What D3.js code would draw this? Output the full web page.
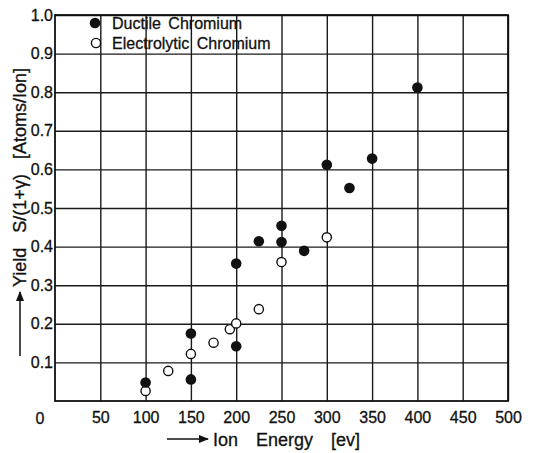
<!DOCTYPE html>
<html>
<head>
<meta charset="utf-8">
<script src="https://cdn.jsdelivr.net/npm/d3@7"></script>
<style>
  body { margin: 0; background: #fff; }
  text { font-family: "Liberation Sans", Arial, sans-serif; fill: #111; }
</style>
</head>
<body>
<script>
// ductile chromium, filled dots
const ductileEnergy = [100, 150, 150, 200, 200, 225, 250, 250, 275, 300, 325, 350, 400];
const ductileYield  = [0.048, 0.175, 0.056, 0.356, 0.142, 0.414, 0.454, 0.412, 0.389, 0.612, 0.552, 0.628, 0.812];

// electrolytic chromium, open dots
const electroEnergy = [100, 125, 150, 175, 193, 200, 225, 250, 300];
const electroYield  = [0.026, 0.078, 0.122, 0.151, 0.186, 0.201, 0.238, 0.36, 0.424];

const xTicks = [50, 100, 150, 200, 250, 300, 350, 400, 450, 500];
const yTicks = [0.1, 0.2, 0.3, 0.4, 0.5, 0.6, 0.7, 0.8, 0.9, 1.0];

const W = 545, H = 453;
const margin = {left: 55, top: 15, right: 37, bottom: 52};
const width = W - margin.left - margin.right;
const height = H - margin.top - margin.bottom;

const svg = d3.select("body").append("svg")
    .attr("width", W)
    .attr("height", H);

const g = svg.append("g")
    .attr("transform", "translate(" + margin.left + "," + margin.top + ")");

const x = d3.scaleLinear().domain([0, 500]).range([0, width]);
const y = d3.scaleLinear().domain([0, 1]).range([height, 0]);

// grid + tick labels
const xAxis = g.append("g")
    .attr("transform", "translate(0," + height + ")")
    .call(d3.axisBottom(x).tickValues(xTicks).tickSize(-height).tickPadding(11)
        .tickFormat(d3.format("d")));
const yAxis = g.append("g")
    .call(d3.axisLeft(y).tickValues(yTicks).tickSize(-width).tickPadding(2)
        .tickFormat(d3.format(".1f")));

[xAxis, yAxis].forEach(function(a){
    a.select(".domain").remove();
    a.selectAll("line").attr("stroke", "#1a1a1a").attr("stroke-width", 1.4);
    a.selectAll("text").style("font-size", "16px").attr("fill", "#111")
        .attr("stroke", "#111").attr("stroke-width", 0.3);
});

// "0" sits at the corner
g.append("text")
    .attr("x", -15).attr("y", height + 23)
    .attr("text-anchor", "middle")
    .style("font-size", "16px")
    .attr("stroke", "#111").attr("stroke-width", 0.3)
    .text("0");

// frame
g.append("rect")
    .attr("width", width).attr("height", height)
    .attr("fill", "none")
    .attr("stroke", "#111")
    .attr("stroke-width", 1.8);

// points
const ductile = ductileEnergy.map((e, i) => ({e: e, v: ductileYield[i]}));
const electro = electroEnergy.map((e, i) => ({e: e, v: electroYield[i]}));

g.append("g").selectAll("circle")
    .data(electro)
    .enter().append("circle")
    .attr("cx", d => x(d.e))
    .attr("cy", d => y(d.v))
    .attr("r", 4.6)
    .attr("fill", "#fff")
    .attr("stroke", "#111")
    .attr("stroke-width", 1.4);

g.append("g").selectAll("circle")
    .data(ductile)
    .enter().append("circle")
    .attr("cx", d => x(d.e))
    .attr("cy", d => y(d.v))
    .attr("r", 5.3)
    .attr("fill", "#111");

// legend
const legend = g.append("g");
legend.append("circle").attr("cx", 40).attr("cy", 8).attr("r", 5.3).attr("fill", "#111");
legend.append("circle").attr("cx", 41).attr("cy", 28).attr("r", 4.6)
    .attr("fill", "#fff").attr("stroke", "#111").attr("stroke-width", 1.4);
legend.append("text").attr("x", 57).attr("y", 14)
    .style("font-size", "16px").style("word-spacing", "3px")
    .attr("stroke", "#111").attr("stroke-width", 0.3)
    .text("Ductile Chromium");
legend.append("text").attr("x", 57).attr("y", 34)
    .style("font-size", "16px").style("word-spacing", "3px")
    .attr("stroke", "#111").attr("stroke-width", 0.3)
    .text("Electrolytic Chromium");

// arrow marker
svg.append("defs").append("marker")
    .attr("id", "arr")
    .attr("viewBox", "0 0 10 10")
    .attr("refX", 9).attr("refY", 5)
    .attr("markerWidth", 7).attr("markerHeight", 7)
    .attr("orient", "auto")
    .append("path").attr("d", "M0,1 L10,5 L0,9 Z").attr("fill", "#111");

// x title
svg.append("line")
    .attr("x1", 167).attr("y1", 439).attr("x2", 208).attr("y2", 439)
    .attr("stroke", "#111").attr("stroke-width", 1.5)
    .attr("marker-end", "url(#arr)");
svg.append("text")
    .attr("x", 213).attr("y", 446)
    .style("font-size", "18px").style("word-spacing", "13px")
    .attr("stroke", "#111").attr("stroke-width", 0.3)
    .text("Ion Energy [ev]");

// y title
svg.append("line")
    .attr("x1", 20).attr("y1", 356).attr("x2", 20).attr("y2", 292)
    .attr("stroke", "#111").attr("stroke-width", 1.5)
    .attr("marker-end", "url(#arr)");
svg.append("text")
    .attr("transform", "translate(26,287) rotate(-90)")
    .style("font-size", "18px").style("word-spacing", "10px")
    .attr("stroke", "#111").attr("stroke-width", 0.3)
    .text("Yield S/(1+γ) [Atoms/Ion]");
</script>
</body>
</html>
